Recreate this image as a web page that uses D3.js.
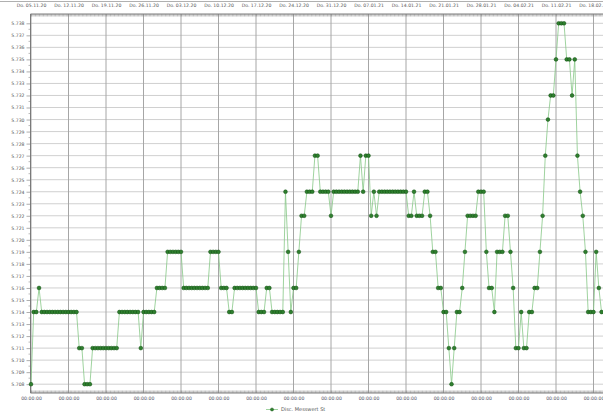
<!DOCTYPE html>
<html><head><meta charset="utf-8">
<script src="https://cdn.jsdelivr.net/npm/d3@7"></script>
<style>body{margin:0;background:#fff;overflow:hidden}svg{display:block}text{font-family:"DejaVu Sans",sans-serif}</style>
</head><body><svg id="c" width="603" height="413"></svg>
<script>
const startTime = "2020-11-05T00:00:00Z";
const stepHours = 12;
const values = [
 5.708, 5.714, 5.714, 5.716,
 5.714, 5.714, 5.714, 5.714, 5.714, 5.714, 5.714, 5.714, 5.714, 5.714, 5.714, 5.714, 5.714, 5.714,
 5.711, 5.711, 5.708, 5.708, 5.708,
 5.711, 5.711, 5.711, 5.711, 5.711, 5.711, 5.711, 5.711, 5.711, 5.711,
 5.714, 5.714, 5.714, 5.714, 5.714, 5.714, 5.714, 5.714,
 5.711, 5.714, 5.714, 5.714, 5.714, 5.714,
 5.716, 5.716, 5.716, 5.716,
 5.719, 5.719, 5.719, 5.719, 5.719, 5.719,
 5.716, 5.716, 5.716, 5.716, 5.716, 5.716, 5.716, 5.716, 5.716, 5.716,
 5.719, 5.719, 5.719, 5.719,
 5.716, 5.716, 5.716, 5.714, 5.714,
 5.716, 5.716, 5.716, 5.716, 5.716, 5.716, 5.716, 5.716, 5.716,
 5.714, 5.714, 5.714, 5.716, 5.716,
 5.714, 5.714, 5.714, 5.714, 5.714,
 5.724, 5.719, 5.714, 5.716, 5.716, 5.719, 5.722, 5.722,
 5.724, 5.724, 5.724, 5.727, 5.727,
 5.724, 5.724, 5.724, 5.724, 5.722,
 5.724, 5.724, 5.724, 5.724, 5.724, 5.724, 5.724, 5.724, 5.724, 5.724,
 5.727, 5.724, 5.727, 5.727, 5.722, 5.724, 5.722,
 5.724, 5.724, 5.724, 5.724, 5.724, 5.724, 5.724, 5.724, 5.724, 5.724, 5.724,
 5.722, 5.722, 5.724, 5.722, 5.722, 5.722, 5.724, 5.724, 5.722,
 5.719, 5.719, 5.716, 5.716, 5.714, 5.714, 5.711, 5.708, 5.711,
 5.714, 5.714, 5.716, 5.719,
 5.722, 5.722, 5.722, 5.722, 5.724, 5.724, 5.724,
 5.719, 5.716, 5.716, 5.714, 5.719, 5.719, 5.719, 5.722, 5.722,
 5.719, 5.716, 5.711, 5.711, 5.714, 5.711, 5.711, 5.714, 5.714,
 5.716, 5.716, 5.719, 5.722, 5.727, 5.730, 5.732, 5.732, 5.735,
 5.738, 5.738, 5.738, 5.735, 5.735, 5.732, 5.735,
 5.727, 5.724, 5.722, 5.719, 5.714, 5.714, 5.714, 5.719, 5.716, 5.714
];
const weekLabels = ["Do. 05.11.20","Do. 12.11.20","Do. 19.11.20","Do. 26.11.20","Do. 03.12.20","Do. 10.12.20","Do. 17.12.20","Do. 24.12.20","Do. 31.12.20","Do. 07.01.21","Do. 14.01.21","Do. 21.01.21","Do. 28.01.21","Do. 04.02.21","Do. 11.02.21","Do. 18.02.21"];
const timeLabel = "00:00:00";
const yTicks = [5.708,5.709,5.710,5.711,5.712,5.713,5.714,5.715,5.716,5.717,5.718,5.719,5.720,5.721,5.722,5.723,5.724,5.725,5.726,5.727,5.728,5.729,5.730,5.731,5.732,5.733,5.734,5.735,5.736,5.737,5.738];
const seriesName = "Disc. Messwert St";

const t0 = new Date(startTime);
const HOUR = 3600e3;
const data = values.map((v, i) => ({t: new Date(+t0 + i * stepHours * HOUR), v}));
const weekDates = weekLabels.map((_, k) => new Date(+t0 + k * 7 * 24 * HOUR));

const svg = d3.select("#c");
const L = 30.5, T = 14, B = 393, R = 603;
const x = d3.scaleUtc().domain([t0, weekDates[weekDates.length - 1]]).range([31, 593.5]);
const y = d3.scaleLinear().domain([5.708, 5.738]).range([384.2, 23.3]);

// frame top line
svg.append("line").attr("x1", 0).attr("x2", R).attr("y1", 1.5).attr("y2", 1.5).attr("stroke", "#b0b0b0").attr("stroke-width", 1);

// horizontal grid
svg.append("g").selectAll("line").data(yTicks).join("line")
  .attr("x1", L).attr("x2", R).attr("y1", d => y(d)).attr("y2", d => y(d))
  .attr("stroke", "#c4c4c4").attr("stroke-width", 0.8);
// vertical grid
svg.append("g").selectAll("line").data(weekDates).join("line")
  .attr("x1", d => x(d)).attr("x2", d => x(d)).attr("y1", T).attr("y2", B)
  .attr("stroke", "#a6a6a6").attr("stroke-width", 1);

// minor ticks every 6h on top & bottom
const minor = d3.utcHour.every(6).range(t0, new Date(+t0 + 110 * 24 * HOUR));
const gTop = svg.append("g").attr("transform", `translate(0,${T})`)
  .call(d3.axisBottom(x).tickValues(minor).tickSize(2.5).tickFormat(""));
const gBot = svg.append("g").attr("transform", `translate(0,${B})`)
  .call(d3.axisTop(x).tickValues(minor).tickSize(2.5).tickFormat(""));
[gTop, gBot].forEach(g => { g.select(".domain").remove(); g.selectAll("line").attr("stroke", "#777").attr("stroke-width", 0.5); });

// axis lines
svg.append("line").attr("x1", L).attr("x2", R).attr("y1", T).attr("y2", T).attr("stroke", "#7a7a7a").attr("stroke-width", 1);
svg.append("line").attr("x1", L).attr("x2", R).attr("y1", B).attr("y2", B).attr("stroke", "#7a7a7a").attr("stroke-width", 1);

// top labels
const topAx = svg.append("g").attr("transform", `translate(0,${T})`)
  .call(d3.axisTop(x).tickValues(weekDates).tickSize(0).tickPadding(7.5).tickFormat((d, i) => weekLabels[i]));
topAx.select(".domain").remove();
topAx.selectAll("text").attr("font-size", 4.6).attr("fill", "#555").attr("font-family", "DejaVu Sans");

// bottom labels
const botAx = svg.append("g").attr("transform", `translate(0,${B})`)
  .call(d3.axisBottom(x).tickValues(weekDates).tickSize(0).tickPadding(4).tickFormat(() => timeLabel));
botAx.select(".domain").remove();
botAx.selectAll("text").attr("font-size", 4.6).attr("fill", "#556").attr("font-family", "DejaVu Sans");

// left axis
const leftAx = svg.append("g").attr("transform", `translate(${L},0)`)
  .call(d3.axisLeft(y).tickValues(yTicks).tickSize(4).tickPadding(2).tickFormat(d3.format(".3f")));
leftAx.select(".domain").attr("stroke", "#7a7a7a").attr("d", `M0,${T}V${B}`);
leftAx.selectAll("line").attr("stroke", "#777").attr("stroke-width", 0.6);
leftAx.selectAll("text").attr("font-size", 4.6).attr("fill", "#555").attr("font-family", "DejaVu Sans");
const halfTicks = yTicks.slice(1).map(d => d - 0.0005);
svg.append("g").selectAll("line").data(halfTicks).join("line")
  .attr("x1", L - 2).attr("x2", L).attr("y1", d => y(d)).attr("y2", d => y(d))
  .attr("stroke", "#777").attr("stroke-width", 0.5);

// series
const line = d3.line().x(d => x(d.t)).y(d => y(d.v));
svg.append("path").datum(data).attr("d", line).attr("fill", "none")
  .attr("stroke", "#86c886").attr("stroke-width", 0.8);
svg.append("g").selectAll("circle").data(data).join("circle")
  .attr("cx", d => x(d.t)).attr("cy", d => y(d.v)).attr("r", 1.9)
  .attr("fill", "#2f7f2f").attr("stroke", "#0f4f0f").attr("stroke-width", 0.5);

// legend
const lg = svg.append("g").attr("transform", "translate(266,409.5)");
lg.append("line").attr("x1", 0).attr("x2", 12).attr("stroke", "#86c886").attr("stroke-width", 0.8);
lg.append("circle").attr("cx", 6).attr("r", 1.6).attr("fill", "#2f7f2f").attr("stroke", "#0f4f0f").attr("stroke-width", 0.4);
lg.append("text").attr("x", 15).attr("dy", "0.35em").attr("font-size", 5).attr("fill", "#555").text(seriesName);
</script></body></html>
